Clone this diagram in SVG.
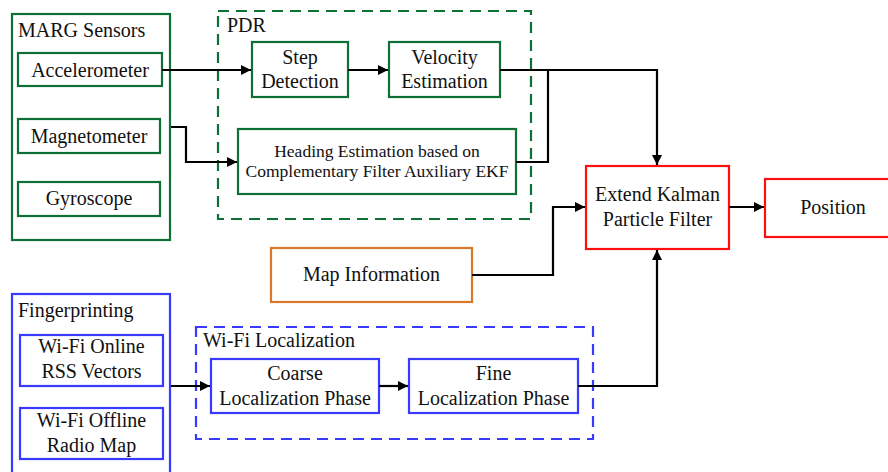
<svg xmlns="http://www.w3.org/2000/svg" width="888" height="472" viewBox="0 0 888 472">
<defs>
<marker id="ah" viewBox="0 0 10 10" refX="10" refY="5" markerWidth="10" markerHeight="10" markerUnits="userSpaceOnUse" orient="auto">
<path d="M0,0 L10,5 L0,10 Z" fill="#000"/>
</marker>
<style>
text{font-family:"Liberation Serif","Times New Roman",serif;font-size:20px;fill:#111;}
.c{text-anchor:middle;}
.sm{font-size:17.5px;}
.g{fill:#fff;stroke:#0f7035;stroke-width:2.2;}
.gd{fill:none;stroke:#0f7035;stroke-width:2.2;stroke-dasharray:11 7;}
.b{fill:#fff;stroke:#3a3aff;stroke-width:2.2;}
.bd{fill:none;stroke:#3a3aff;stroke-width:2.2;stroke-dasharray:11 7;}
.r{fill:#fff;stroke:#ff1010;stroke-width:2.2;}
.o{fill:#fff;stroke:#d8782a;stroke-width:2.2;}
.ln{fill:none;stroke:#000;stroke-width:2.2;}
</style>
</defs>
<rect width="888" height="472" fill="#fff"/>

<g id="marg">
<rect class="g" x="12" y="14" width="158" height="226"/>
<text x="18" y="37">MARG Sensors</text>
</g>
<g id="accelerometer">
<rect class="g" x="18" y="53" width="144" height="33"/>
<text class="c" x="90" y="77">Accelerometer</text>
</g>
<g id="magnetometer">
<rect class="g" x="18" y="119" width="142" height="34"/>
<text class="c" x="89" y="143">Magnetometer</text>
</g>
<g id="gyroscope">
<rect class="g" x="18" y="182" width="142" height="34"/>
<text class="c" x="89" y="205">Gyroscope</text>
</g>

<g id="pdr">
<rect class="gd" x="218" y="11" width="313" height="208"/>
<text x="227" y="32">PDR</text>
</g>
<g id="step">
<rect class="g" x="252" y="42" width="96" height="55"/>
<text class="c" x="300" y="64">Step</text>
<text class="c" x="300" y="88">Detection</text>
</g>
<g id="velocity">
<rect class="g" x="389" y="42" width="111" height="55"/>
<text class="c" x="444.5" y="64">Velocity</text>
<text class="c" x="444.5" y="88">Estimation</text>
</g>
<g id="heading">
<rect class="g" x="238" y="129" width="278" height="65"/>
<text class="c sm" x="377" y="157">Heading Estimation based on</text>
<text class="c sm" x="377" y="177">Complementary Filter Auxiliary EKF</text>
</g>

<g id="ekpf">
<rect class="r" x="586" y="166" width="143" height="83"/>
<text class="c" x="657.5" y="201">Extend Kalman</text>
<text class="c" x="657.5" y="226">Particle Filter</text>
</g>
<g id="position">
<rect class="r" x="765" y="179" width="130" height="58"/>
<text class="c" x="833" y="214">Position</text>
</g>
<g id="map">
<rect class="o" x="271" y="248" width="201" height="54"/>
<text class="c" x="371.5" y="281">Map Information</text>
</g>

<g id="fingerprinting">
<rect class="b" x="12" y="294" width="158" height="190"/>
<text x="18" y="317">Fingerprinting</text>
</g>
<g id="online">
<rect class="b" x="20" y="335" width="143" height="51"/>
<text class="c" x="91.5" y="353">Wi-Fi Online</text>
<text class="c" x="91.5" y="378">RSS Vectors</text>
</g>
<g id="offline">
<rect class="b" x="20" y="408" width="143" height="51"/>
<text class="c" x="91.5" y="427">Wi-Fi Offline</text>
<text class="c" x="91.5" y="452">Radio Map</text>
</g>

<g id="wifi">
<rect class="bd" x="196" y="327" width="397" height="112"/>
<text x="203" y="347">Wi-Fi Localization</text>
</g>
<g id="coarse">
<rect class="b" x="211" y="359" width="168" height="54"/>
<text class="c" x="295" y="380">Coarse</text>
<text class="c" x="295" y="405">Localization Phase</text>
</g>
<g id="fine">
<rect class="b" x="409" y="359" width="169" height="54"/>
<text class="c" x="493.5" y="380">Fine</text>
<text class="c" x="493.5" y="405">Localization Phase</text>
</g>

<g id="connectors">
<path class="ln" d="M162,70 H251" marker-end="url(#ah)"/>
<path class="ln" d="M348,70 H388" marker-end="url(#ah)"/>
<path class="ln" d="M171,127 H186 V162 H237" marker-end="url(#ah)"/>
<path class="ln" d="M500,70 H657 V165" marker-end="url(#ah)"/>
<path class="ln" d="M516,162 H548 V70"/>
<path class="ln" d="M472,275 H553 V207 H585" marker-end="url(#ah)"/>
<path class="ln" d="M729,207 H764" marker-end="url(#ah)"/>
<path class="ln" d="M171,386 H210" marker-end="url(#ah)"/>
<path class="ln" d="M379,386 H408" marker-end="url(#ah)"/>
<path class="ln" d="M578,386 H657 V250" marker-end="url(#ah)"/>
</g>
</svg>
